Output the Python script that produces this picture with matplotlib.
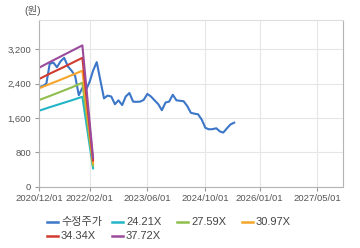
import pandas as pd
import matplotlib
matplotlib.use('Agg')
import matplotlib.pyplot as plt
from matplotlib.lines import Line2D
from matplotlib.ticker import FuncFormatter

plt.rcParams['font.family'] = ['Liberation Sans', 'Noto Sans CJK KR', 'DejaVu Sans']

# monthly adjusted price, 2020-12 .. 2025-06
price_dates = pd.date_range('2020-12-01', '2025-06-01', freq='MS')
price = [2320, 2340, 2400, 2860, 2890, 2780, 2920, 3000, 2800, 2700,
         2580, 2130, 2300, 2250, 2450, 2700, 2900, 2480, 2056, 2120,
         2100, 1920, 2010, 1900, 2100, 2180, 1980, 1975, 1980, 2020,
         2160, 2100, 2010, 1920, 1780, 1960, 1980, 2140, 2010, 2000,
         1990, 1880, 1720, 1700, 1685, 1560, 1370, 1335, 1340, 1360,
         1285, 1260, 1360, 1450, 1490]

# PER band lines
band_dates = pd.to_datetime(['2020-12-01', '2021-03-01', '2021-06-01',
                             '2021-09-01', '2021-12-01', '2022-03-01'])
band_24 = [1768, 1850, 1930, 2010, 2093, 428]
band_27 = [2017, 2110, 2210, 2310, 2419, 488]
band_30 = [2289, 2390, 2490, 2595, 2698, 548]
band_34 = [2505, 2630, 2750, 2875, 3000, 608]
band_37 = [2768, 2900, 3030, 3160, 3289, 668]

labels = ['수정주가', '24.21X', '27.59X', '30.97X', '34.34X', '37.72X']
colors = ['#3b76c8', '#22b5c6', '#8fbe4c', '#f5a52a', '#d13a2e', '#9a4b9c']

x_ticks = pd.to_datetime(['2020-12-01', '2022-02-01', '2023-06-01',
                          '2024-10-01', '2026-01-01', '2027-05-01'])
y_ticks = [0, 800, 1600, 2400, 3200]

fig = plt.figure(figsize=(3.6, 2.48), dpi=100)
ax = fig.add_axes([39 / 360, 1 - 186.7 / 248, (342.7 - 39) / 360, (186.7 - 20) / 248])

ax.plot(price_dates, price, color=colors[0], lw=1.5, solid_joinstyle='round')
for vals, c in zip([band_24, band_27, band_30, band_34, band_37], colors[1:]):
    ax.plot(band_dates, vals, color=c, lw=1.5)

ax.set_xlim(pd.Timestamp('2020-12-01'), pd.Timestamp('2027-12-01'))
ax.set_ylim(0, 3880)
ax.set_xticks(x_ticks)
ax.set_xticklabels([d.strftime('%Y/%m/%d') for d in x_ticks])
ax.set_yticks(y_ticks)
ax.yaxis.set_major_formatter(FuncFormatter(lambda v, p: f'{int(v):,}'))
ax.grid(True, color='#e6e6e6', lw=0.8)
ax.set_axisbelow(True)
ax.tick_params(labelsize=6.8, colors='#999999', labelcolor='#555555', length=3, width=0.8, pad=2.5)
for s in ['left', 'bottom', 'right']:
    ax.spines[s].set_color('#b4b4b4')
ax.spines['top'].set_color('#dedede')

fig.text(33 / 360, 1 - 11 / 248, '(원)', fontsize=7.5, color='#555555', ha='center', va='center')

# legend, fixed column widths
col_x = [47, 112, 177, 242]
row_y = [222, 236]
for i, (lab, c) in enumerate(zip(labels, colors)):
    cx = col_x[i % 4]
    cy = row_y[i // 4]
    fig.add_artist(Line2D([cx / 360, (cx + 11) / 360], [1 - cy / 248, 1 - cy / 248],
                          color=c, lw=1.8, transform=fig.transFigure))
    fig.text((cx + 14) / 360, 1 - cy / 248, lab, fontsize=8, color='#444444',
             ha='left', va='center')

fig.savefig('out.png', dpi=100)
